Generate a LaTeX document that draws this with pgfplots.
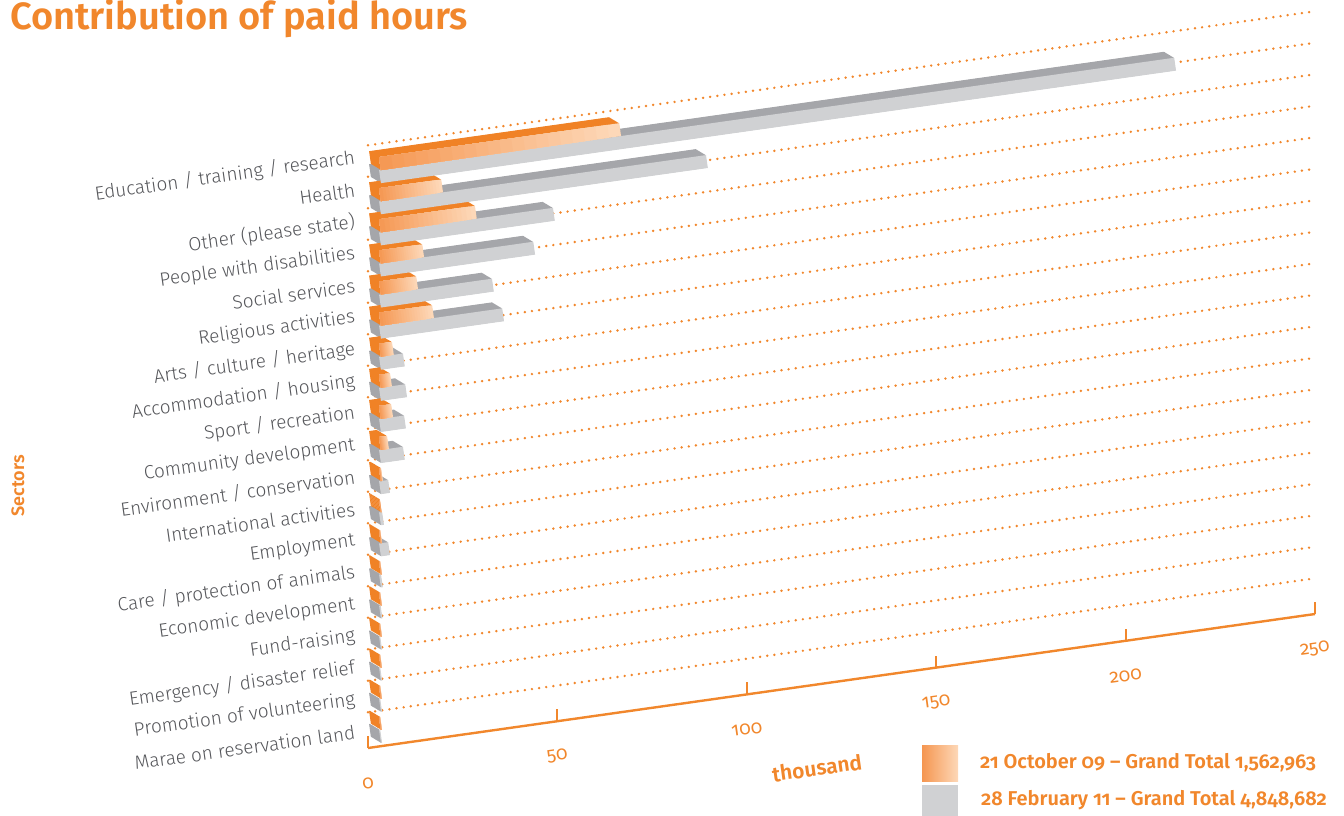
\documentclass[border=0pt]{standalone}
\usepackage{fontspec}
\setmainfont{Fira Sans}[Numbers=OldStyle]
\newfontfamily\lightfont{Fira Sans Light}[Numbers=OldStyle]
\newfontfamily\semifont{Fira Sans SemiBold}[Numbers=OldStyle]
\usepackage{pgfplots}
\pgfplotsset{compat=1.18}
\usepackage{pgfplotstable}
\definecolor{ora}{RGB}{241,135,44}
\definecolor{oraTop}{RGB}{240,130,38}
\definecolor{oraL}{RGB}{245,150,80}
\definecolor{oraR}{RGB}{253,216,184}
\definecolor{gryF}{RGB}{208,209,211}
\definecolor{gryD}{RGB}{165,166,170}
\definecolor{lbl}{RGB}{85,86,90}
\pgfplotstableread{
k orange gray
0 0.3 0.3
1 0.3 0.3
2 0.3 0.3
3 0.3 0.3
4 0.3 0.4
5 0.3 0.5
6 0.3 2.4
7 0.2 0.8
8 0.5 2.4
9 2.1 6.3
10 3.2 6.6
11 2.9 6.9
12 3.4 6.3
13 14.0 32.5
14 9.8 29.8
15 11.4 40.7
16 25.3 45.9
17 16.4 86.3
18 63.4 209.9
}\data
\begin{document}
\begin{tikzpicture}
\useasboundingbox (0,0) rectangle (1344pt,-816pt);
\begin{axis}[
  at={(368pt,-748pt)}, anchor=origin,
  x={(3.788pt,0.536pt)}, y={(0pt,31.1pt)},
  xmin=0, xmax=250, ymin=0, ymax=19.6,
  clip=false,
  axis x line*=bottom, axis y line*=left,
  x axis line style={draw=ora, line width=2.4pt},
  y axis line style={draw=none},
  tick align=inside,
  major tick length=12pt,
  xtick={0,50,100,150,200,250},
  xtick style={draw=ora, line width=2pt},
  /pgf/number format/assume math mode=true,
  xticklabel style={text=ora, font=\fontsize{19pt}{20pt}\selectfont, anchor=center, inner sep=0pt, yshift=-35pt, rotate=8},
  ytick={0.514,1.539,2.564,3.590,4.615,5.640,6.665,7.690,8.716,9.741,10.766,11.791,12.816,13.842,14.867,15.892,16.917,17.942,18.968},
  yticklabels={Marae on reservation land,Promotion of volunteering,Emergency / disaster relief,Fund-raising,Economic development,Care / protection of animals,Employment,International activities,Environment / conservation,Community development,Sport / recreation,Accommodation / housing,Arts / culture / heritage,Religious activities,Social services,People with disabilities,Other (please state),Health,Education / training / research},
  yticklabel style={text=lbl, font=\lightfont\fontsize{19pt}{20pt}\selectfont, anchor=east, inner sep=0pt, xshift=-13pt, rotate=8},
  ytick style={draw=none},
  extra y ticks={1.148,2.161,3.174,4.187,5.200,6.212,7.225,8.238,9.251,10.264,11.277,12.290,13.303,14.316,15.329,16.342,17.354,18.367,19.380},
  extra y tick labels={},
  extra y tick style={grid=major, tick style={draw=none}},
  major grid style={draw=ora, line width=2.7pt, line cap=round, dash pattern=on 0pt off 7.2pt},
]
% gray extrusion (top and left faces)
\pgfplotsinvokeforeach{1,...,16}{
  \addplot[-, mark=none, draw=gryD, line width=13pt, quiver={u=\thisrow{gray}, v=0}, xshift={12pt-0.625pt*#1}, yshift={11.5pt+0.375pt*#1}, forget plot] table[x expr=0, y=k] {\data};
}
% orange extrusion
\pgfplotsinvokeforeach{1,...,16}{
  \addplot[-, mark=none, draw=oraTop, line width=13pt, quiver={u=\thisrow{orange}, v=0}, xshift={12pt-0.625pt*#1}, yshift={24.6pt+0.375pt*#1}, forget plot] table[x expr=0, y=k] {\data};
}
% gray front
\addplot[-, mark=none, draw=gryF, line width=13pt, quiver={u=\thisrow{gray}, v=0}, xshift=12pt, yshift=11.5pt, forget plot] table[x expr=0, y=k] {\data};
% orange front, stepped gradient
\pgfplotsinvokeforeach{0,5,...,95}{
  \addplot[-, mark=none, draw=oraL!#1!oraR, line width=13pt, quiver={u=\thisrow{orange}*(1-#1/100), v=0}, xshift=12pt, yshift=24.6pt, forget plot] table[x expr=0, y=k] {\data};
}
\end{axis}
\node[anchor=base west, inner sep=0pt, text=ora, font=\semifont\fontsize{38pt}{42pt}\selectfont] at (10pt,-30pt) {Contribution of paid hours};
\node[rotate=90, inner sep=0pt, text=ora, font=\semifont\fontsize{18pt}{20pt}\selectfont] at (18pt,-486pt) {Sectors};
\node[rotate=8, inner sep=0pt, text=ora, font=\semifont\fontsize{21pt}{22pt}\selectfont] at (817pt,-768pt) {thousand};
\shade[left color=oraL, right color=oraR] (922pt,-745pt) rectangle (958pt,-781pt);
\fill[gryF] (922pt,-785pt) rectangle (958pt,-816pt);
\node[anchor=west, inner sep=0pt, text=ora, font=\semifont\fontsize{20pt}{22pt}\selectfont] at (980pt,-763pt) {21 October 09 – Grand Total 1,562,963};
\node[anchor=west, inner sep=0pt, text=ora, font=\semifont\fontsize{20pt}{22pt}\selectfont] at (981pt,-800pt) {28 February 11 – Grand Total 4,848,682};
\end{tikzpicture}
\end{document}
